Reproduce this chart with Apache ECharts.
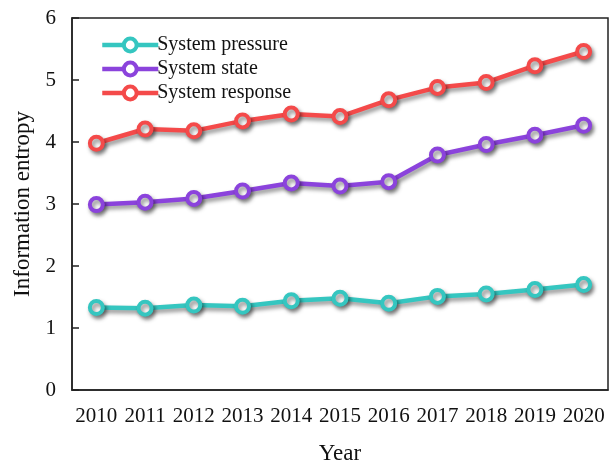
<!DOCTYPE html>
<html>
<head>
<meta charset="utf-8">
<script src="https://cdn.jsdelivr.net/npm/echarts@6/dist/echarts.min.js"></script>
<style>
  html, body { margin: 0; padding: 0; background: #fff; }
  #chart { width: 611px; height: 461px; }
</style>
</head>
<body>
<div id="chart"></div>
<script>
const years = ["2010", "2011", "2012", "2013", "2014", "2015", "2016", "2017", "2018", "2019", "2020"];
const pressure = [1.33, 1.32, 1.37, 1.35, 1.44, 1.48, 1.40, 1.51, 1.55, 1.62, 1.70];
const state = [2.99, 3.03, 3.09, 3.21, 3.34, 3.29, 3.36, 3.79, 3.96, 4.11, 4.27];
const response = [3.98, 4.21, 4.18, 4.34, 4.45, 4.41, 4.68, 4.88, 4.96, 5.23, 5.46];

const serif = "Liberation Serif";

function mkSeries(name, data, color) {
  return {
    name,
    type: "line",
    data,
    symbol: "circle",
    symbolSize: 13,
    itemStyle: {
      color: "#fff",
      borderColor: color,
      borderWidth: 4,
      shadowColor: "rgba(0,0,0,0.45)",
      shadowBlur: 4,
      shadowOffsetX: 2,
      shadowOffsetY: 3,
    },
    lineStyle: {
      color,
      width: 4.5,
      shadowColor: "rgba(0,0,0,0.45)",
      shadowBlur: 4,
      shadowOffsetX: 2,
      shadowOffsetY: 3,
    },
    emphasis: { disabled: true },
  };
}

const chart = echarts.init(document.getElementById("chart"));
chart.setOption({
  animation: false,
  textStyle: { fontFamily: serif },
  grid: {
    left: 72, right: 3, top: 18, bottom: 71,
    containLabel: false,
    outerBoundsMode: "none",
    show: true, borderColor: "#222", borderWidth: 1.5,
  },
  legend: {
    orient: "vertical",
    left: 95,
    top: 30,
    itemGap: 4,
    itemWidth: 56,
    itemHeight: 16,
    selectedMode: false,
    itemStyle: { borderWidth: 4, shadowBlur: 0, shadowOffsetX: 0, shadowOffsetY: 0 },
    lineStyle: { width: 4.5, shadowBlur: 0, shadowOffsetX: 0, shadowOffsetY: 0 },
    textStyle: { fontFamily: serif, fontSize: 20, color: "#111", padding: [0, 0, 0, -6] },
    data: ["System pressure", "System state", "System response"],
  },
  xAxis: {
    type: "category",
    data: years,
    boundaryGap: true,
    name: "Year",
    nameLocation: "middle",
    nameGap: 52,
    nameTextStyle: { fontFamily: serif, fontSize: 23, color: "#111" },
    axisLine: { lineStyle: { color: "#222", width: 1.5 } },
    axisTick: { inside: true, length: 7, lineStyle: { color: "#222", width: 1.5 } },
    axisLabel: { fontFamily: serif, fontSize: 21, color: "#111", margin: 16, interval: 0, hideOverlap: false },
  },
  yAxis: {
    type: "value",
    min: 0,
    max: 6,
    interval: 1,
    name: "Information entropy",
    nameLocation: "middle",
    nameGap: 38,
    nameTextStyle: { fontFamily: serif, fontSize: 23, color: "#111" },
    axisLine: { show: true, lineStyle: { color: "#222", width: 1.5 } },
    axisTick: { show: true, inside: true, length: 7, lineStyle: { color: "#222", width: 1.5 } },
    axisLabel: { fontFamily: serif, fontSize: 21, color: "#111", margin: 16 },
    splitLine: { show: false },
  },
  series: [
    mkSeries("System pressure", pressure, "#35c6c0"),
    mkSeries("System state", state, "#8b43dc"),
    mkSeries("System response", response, "#f44a4a"),
  ],
});
</script>
</body>
</html>
